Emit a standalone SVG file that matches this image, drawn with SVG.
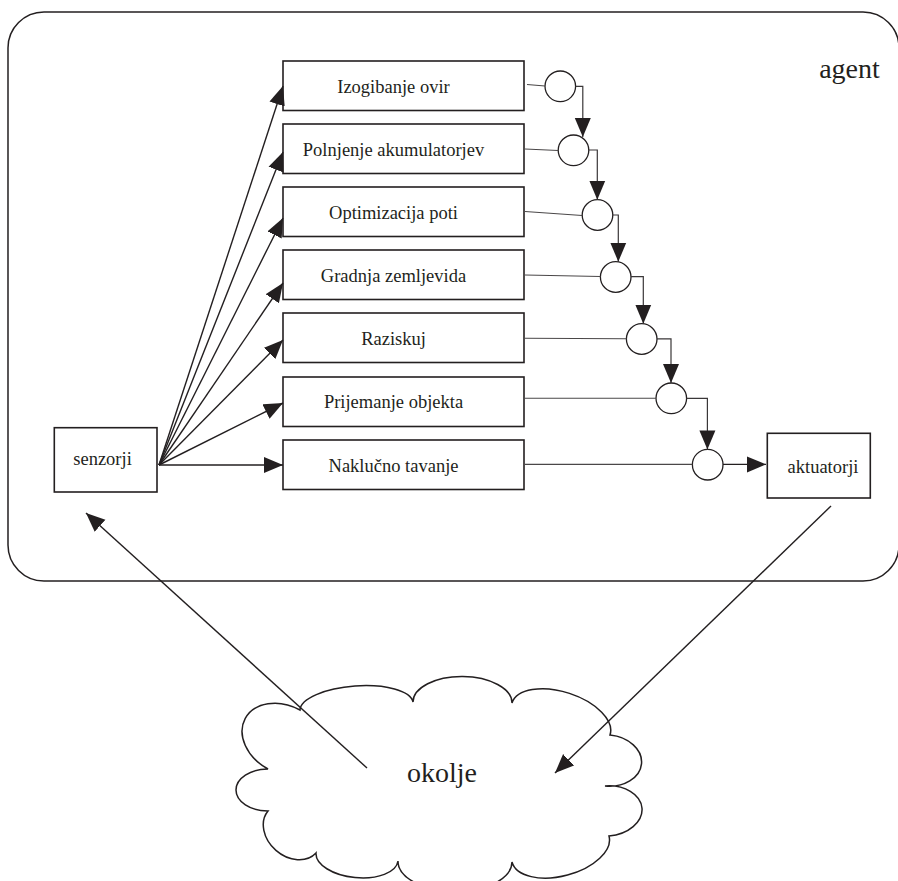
<svg xmlns="http://www.w3.org/2000/svg" width="898" height="881" viewBox="0 0 898 881">
  <style>
    .box { fill: #ffffff; stroke: #231f20; stroke-width: 1.6; }
    .lbl { font-family: "Liberation Serif", "Times New Roman", serif; font-size: 18.5px; fill: #231f20; text-anchor: middle; }
    .big { font-family: "Liberation Serif", "Times New Roman", serif; font-size: 28px; fill: #231f20; text-anchor: middle; }
    .arrow { fill: none; stroke: #231f20; stroke-width: 1.4; marker-end: url(#head); }
    .feed { fill: none; stroke: #4a4748; stroke-width: 1.1; }
    .chain { fill: none; stroke: #3a3738; stroke-width: 1.2; marker-end: url(#head); }
    .junction { fill: #ffffff; stroke: #231f20; stroke-width: 1.3; }
    .frame { fill: none; stroke: #231f20; stroke-width: 1.5; }
  </style>
  <defs>
    <marker id="head" markerUnits="userSpaceOnUse" markerWidth="20" markerHeight="17" viewBox="0 0 20 17" refX="19" refY="8.5" orient="auto">
      <path d="M0,0.5 L19,8.5 L0,16.5 Z" fill="#231f20"/>
    </marker>
  </defs>

  <rect x="0" y="0" width="898" height="881" fill="#ffffff"/>

  <!-- agent boundary -->
  <g id="agent">
    <rect class="frame" x="8" y="12" width="891" height="569" rx="36" ry="36"/>
    <text class="big" x="849.5" y="78">agent</text>
  </g>

  <!-- environment cloud -->
  <g id="okolje">
    <path class="frame" stroke-width="1.4" d="M300,710
      A56.7,21 -4 0 1 413,702
      A49.5,26 0.6 0 1 512,703
      A51.5,27 18 0 1 610,735
      A25.5,34 95.6 0 1 605,786
      A25,35 85.4 0 1 609,836
      A50.2,27 165 0 1 512,862
      A57,30 180.5 0 1 398,861
      A41.2,21 185.6 0 1 316,853
      A31.9,25 221.2 0 1 268,811
      A21,32 -90 0 1 268,769
      A33.5,44 -61.5 0 1 300,710 Z"/>
    <text class="big" x="442" y="782">okolje</text>
  </g>

  <g id="senzorji">
    <rect class="box" x="54.3" y="427.7" width="102.7" height="64.3"/>
    <text class="lbl" x="102.5" y="465">senzorji</text>
  </g>

  <g id="aktuatorji">
    <rect class="box" x="767.3" y="433.3" width="103" height="64.7"/>
    <text class="lbl" x="823" y="473">aktuatorji</text>
  </g>

  <!-- behaviour layers -->
  <g id="izogibanje-ovir">
    <rect class="box" x="283" y="61" width="241" height="49.5"/>
    <text class="lbl" x="393.5" y="93">Izogibanje ovir</text>
  </g>
  <g id="polnjenje-akumulatorjev">
    <rect class="box" x="283" y="124" width="241" height="49.5"/>
    <text class="lbl" x="393.5" y="156">Polnjenje akumulatorjev</text>
  </g>
  <g id="optimizacija-poti">
    <rect class="box" x="283" y="187" width="241" height="49.5"/>
    <text class="lbl" x="393.5" y="219">Optimizacija poti</text>
  </g>
  <g id="gradnja-zemljevida">
    <rect class="box" x="283" y="250" width="241" height="49.5"/>
    <text class="lbl" x="393.5" y="282">Gradnja zemljevida</text>
  </g>
  <g id="raziskuj">
    <rect class="box" x="283" y="313" width="241" height="49.5"/>
    <text class="lbl" x="393.5" y="345">Raziskuj</text>
  </g>
  <g id="prijemanje-objekta">
    <rect class="box" x="283" y="377" width="241" height="49.5"/>
    <text class="lbl" x="393.5" y="408">Prijemanje objekta</text>
  </g>
  <g id="nakljucno-tavanje">
    <rect class="box" x="283" y="440" width="241" height="49.5"/>
    <text class="lbl" x="393.5" y="472">Naklučno tavanje</text>
  </g>

  <!-- suppression junctions -->
  <g id="junctions">
    <circle class="junction" cx="560.3" cy="86.3" r="15.3"/>
    <circle class="junction" cx="573.5" cy="150.3" r="15.3"/>
    <circle class="junction" cx="597.5" cy="215" r="15.3"/>
    <circle class="junction" cx="615.7" cy="277" r="15.3"/>
    <circle class="junction" cx="641.7" cy="339" r="15.3"/>
    <circle class="junction" cx="671.3" cy="398.3" r="15.3"/>
    <circle class="junction" cx="707.7" cy="464.7" r="15.3"/>
  </g>

  <g id="connectors">
    <!-- sensor fan-out -->
    <line class="arrow" x1="159" y1="465" x2="283" y2="86"/>
    <line class="arrow" x1="159" y1="465" x2="283" y2="152"/>
    <line class="arrow" x1="159" y1="465" x2="283" y2="218"/>
    <line class="arrow" x1="159" y1="465" x2="283" y2="283"/>
    <line class="arrow" x1="159" y1="465" x2="283" y2="340"/>
    <line class="arrow" x1="159" y1="465" x2="283" y2="403"/>
    <line class="arrow" x1="159" y1="465" x2="283" y2="465"/>

    <!-- layer outputs into junctions -->
    <line class="feed" x1="527" y1="84.5" x2="545" y2="86"/>
    <line class="feed" x1="525" y1="149" x2="558.2" y2="150.5"/>
    <line class="feed" x1="525" y1="211.5" x2="582.2" y2="215.5"/>
    <line class="feed" x1="525" y1="275" x2="600.4" y2="276.5"/>
    <line class="feed" x1="525" y1="338.3" x2="626.4" y2="338.8"/>
    <line class="feed" x1="525" y1="398.3" x2="656" y2="398.3"/>
    <line class="feed" x1="525" y1="464.4" x2="692.4" y2="464.4"/>

    <!-- junction chain -->
    <polyline class="chain" points="575.6,86.3 582.8,86.3 582.8,137"/>
    <polyline class="chain" points="588.8,150 597.3,150 597.3,199.7"/>
    <polyline class="chain" points="612.8,215 618.3,215 618.3,261.7"/>
    <polyline class="chain" points="631,276.6 643.3,276.6 643.3,323.7"/>
    <polyline class="chain" points="657,338.8 671,338.8 671,383"/>
    <polyline class="chain" points="686.6,398.3 707.4,398.3 707.4,449.4"/>
    <line class="arrow" stroke-width="2" x1="723" y1="464.4" x2="766" y2="464.4"/>

    <!-- environment loop -->
    <line class="arrow" stroke-width="1.3" x1="367" y1="768" x2="86" y2="513"/>
    <line class="arrow" stroke-width="1.3" x1="831" y1="506" x2="555" y2="773"/>
  </g>
</svg>
